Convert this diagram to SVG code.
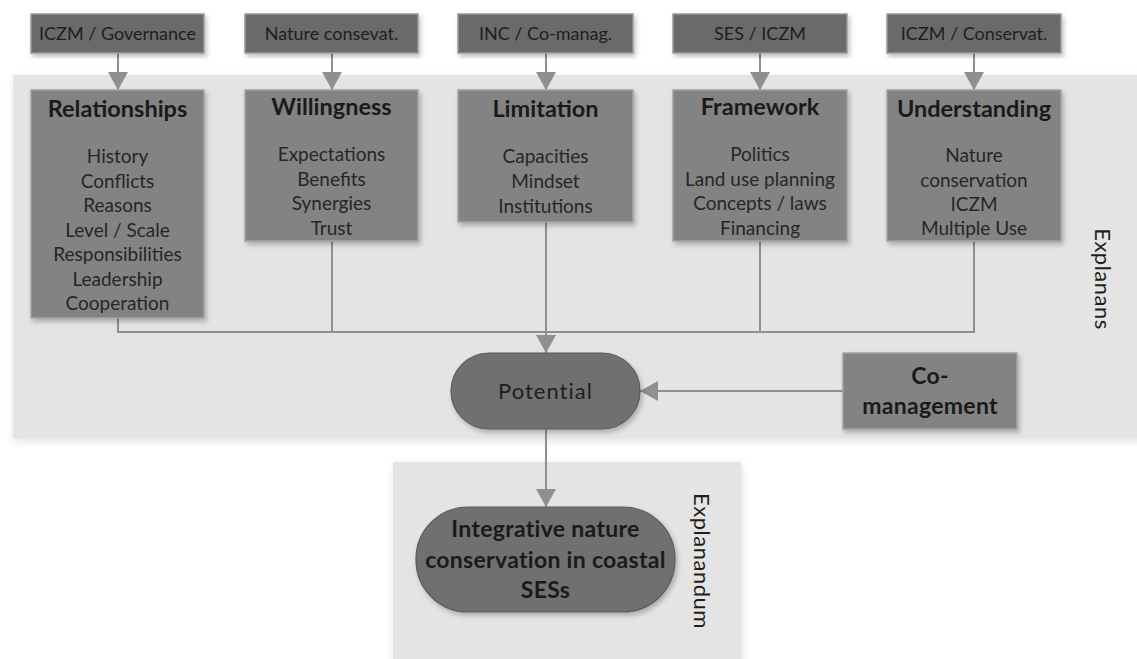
<svg xmlns="http://www.w3.org/2000/svg" width="1137" height="659" viewBox="0 0 1137 659">
<defs>
  <filter id="sh" x="-10%" y="-10%" width="125%" height="125%">
    <feDropShadow dx="2" dy="3" stdDeviation="2.5" flood-color="#000" flood-opacity="0.25"/>
  </filter>
  <filter id="psh" x="-5%" y="-5%" width="110%" height="115%">
    <feDropShadow dx="1" dy="3" stdDeviation="4" flood-color="#000" flood-opacity="0.12"/>
  </filter>
  <marker id="ah" viewBox="0 0 18 20" refX="18" refY="10" markerWidth="18" markerHeight="20" markerUnits="userSpaceOnUse" orient="auto">
    <path d="M0,0 L18,10 L0,20 Z" fill="#8f8f8f"/>
  </marker>
  <style>
    .panel{fill:#e4e4e4;filter:url(#psh)}
    .top{fill:#6b6b6b;stroke:#9a9a9a;stroke-width:1.5;filter:url(#sh)}
    .box{fill:#838383;stroke:#a3a3a3;stroke-width:1.5;filter:url(#sh)}
    .oval{fill:#6f6f6f;stroke:#5c5c5c;stroke-width:1.2;filter:url(#sh)}
    .conn{stroke:#8f8f8f;stroke-width:2;fill:none}
    text{font-family:Lato,"Liberation Sans",sans-serif;text-anchor:middle}
    .tt{font-size:18px;fill:#1e1e1e}
    .ti{font-size:23.5px;font-weight:bold;fill:#1a1a1a}
    .bd{font-size:19px;fill:#262626}
    .lb{font-size:22px;fill:#1e1e1e;letter-spacing:0.5px}
    .bb{font-size:23px;font-weight:bold;fill:#1a1a1a;letter-spacing:0.3px}
  </style>
</defs>
<rect width="1137" height="659" fill="#ffffff"/>
<g id="panel-explanans">
  <rect class="panel" x="13" y="75" width="1130" height="363"/>
  <text class="lb" transform="translate(1095,279) rotate(90)">Explanans</text>
</g>
<g id="panel-explanandum">
  <rect class="panel" x="393" y="462" width="348" height="205"/>
  <text class="lb" transform="translate(694,561) rotate(90)">Explanandum</text>
</g>
<g id="connectors">
  <line class="conn" x1="118" y1="53" x2="118" y2="90" marker-end="url(#ah)"/>
  <line class="conn" x1="332" y1="53" x2="332" y2="90" marker-end="url(#ah)"/>
  <line class="conn" x1="546" y1="53" x2="546" y2="90" marker-end="url(#ah)"/>
  <line class="conn" x1="760" y1="53" x2="760" y2="90" marker-end="url(#ah)"/>
  <line class="conn" x1="974" y1="53" x2="974" y2="90" marker-end="url(#ah)"/>
  <path class="conn" d="M118,318 V332 H974 V241 M332,241 V332 M760,241 V332"/>
  <line class="conn" x1="546" y1="222" x2="546" y2="353" marker-end="url(#ah)"/>
  <line class="conn" x1="843" y1="391" x2="640" y2="391" marker-end="url(#ah)"/>
  <line class="conn" x1="546" y1="429" x2="546" y2="507" marker-end="url(#ah)"/>
</g>
<g id="top-governance">
  <rect class="top" x="31" y="14" width="173" height="39"/>
  <text class="tt" x="117.5" y="40">ICZM / Governance</text>
</g>
<g id="top-nature">
  <rect class="top" x="245" y="14" width="173" height="39"/>
  <text class="tt" x="331.5" y="40">Nature consevat.</text>
</g>
<g id="top-inc">
  <rect class="top" x="458" y="14" width="175" height="39"/>
  <text class="tt" x="545.5" y="40">INC / Co-manag.</text>
</g>
<g id="top-ses">
  <rect class="top" x="673" y="14" width="174" height="39"/>
  <text class="tt" x="760" y="40">SES / ICZM</text>
</g>
<g id="top-conservat">
  <rect class="top" x="887" y="14" width="174" height="39"/>
  <text class="tt" x="974" y="40">ICZM / Conservat.</text>
</g>
<g id="relationships">
  <rect class="box" x="31" y="90" width="173" height="228"/>
  <text class="ti" x="117.5" y="117">Relationships</text>
  <text class="bd" x="117.5" y="163">History</text>
  <text class="bd" x="117.5" y="187.5">Conflicts</text>
  <text class="bd" x="117.5" y="212">Reasons</text>
  <text class="bd" x="117.5" y="236.5">Level / Scale</text>
  <text class="bd" x="117.5" y="261">Responsibilities</text>
  <text class="bd" x="117.5" y="285.5">Leadership</text>
  <text class="bd" x="117.5" y="310">Cooperation</text>
</g>
<g id="willingness">
  <rect class="box" x="245" y="90" width="173" height="151"/>
  <text class="ti" x="331.5" y="115">Willingness</text>
  <text class="bd" x="331.5" y="161">Expectations</text>
  <text class="bd" x="331.5" y="185.5">Benefits</text>
  <text class="bd" x="331.5" y="210">Synergies</text>
  <text class="bd" x="331.5" y="234.5">Trust</text>
</g>
<g id="limitation">
  <rect class="box" x="458" y="90" width="175" height="132"/>
  <text class="ti" x="545.5" y="117">Limitation</text>
  <text class="bd" x="545.5" y="163">Capacities</text>
  <text class="bd" x="545.5" y="188">Mindset</text>
  <text class="bd" x="545.5" y="212.5">Institutions</text>
</g>
<g id="framework">
  <rect class="box" x="673" y="90" width="174" height="151"/>
  <text class="ti" x="760" y="115">Framework</text>
  <text class="bd" x="760" y="161">Politics</text>
  <text class="bd" x="760" y="185.5">Land use planning</text>
  <text class="bd" x="760" y="210">Concepts / laws</text>
  <text class="bd" x="760" y="234.5">Financing</text>
</g>
<g id="understanding">
  <rect class="box" x="887" y="90" width="174" height="151"/>
  <text class="ti" x="974" y="117">Understanding</text>
  <text class="bd" x="974" y="162">Nature</text>
  <text class="bd" x="974" y="186.5">conservation</text>
  <text class="bd" x="974" y="211">ICZM</text>
  <text class="bd" x="974" y="235">Multiple Use</text>
</g>
<g id="potential">
  <rect class="oval" x="451" y="353" width="189" height="76" rx="38" ry="38"/>
  <text class="lb" x="545.5" y="399" style="font-size:22px;letter-spacing:1px">Potential</text>
</g>
<g id="co-management">
  <rect class="box" x="843" y="353" width="174" height="76"/>
  <text class="bb" x="930" y="384">Co-</text>
  <text class="bb" x="930" y="414">management</text>
</g>
<g id="integrative">
  <rect class="oval" x="416" y="507" width="259" height="105" rx="52" ry="52"/>
  <text class="bb" x="545.5" y="537">Integrative nature</text>
  <text class="bb" x="545.5" y="568">conservation in coastal</text>
  <text class="bb" x="545.5" y="598">SESs</text>
</g>
</svg>
